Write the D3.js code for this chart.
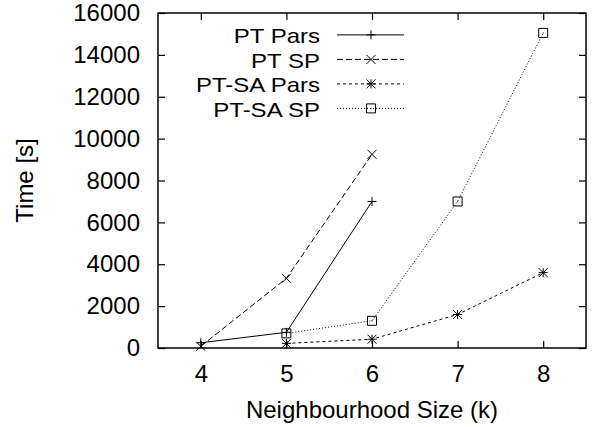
<!DOCTYPE html>
<html><head><meta charset="utf-8">
<script src="https://cdn.jsdelivr.net/npm/d3@7"></script>
<style>body{margin:0;background:#fff;} text{font-family:"Liberation Sans",Arial,sans-serif;}</style>
</head><body>
<svg id="c" width="599" height="427"></svg>
<script>
const xTicks = [4, 5, 6, 7, 8];
const yTicks = [0, 2000, 4000, 6000, 8000, 10000, 12000, 14000, 16000];
const seriesNames = ["PT Pars", "PT SP", "PT-SA Pars", "PT-SA SP"];
const ptParsK = [4, 5, 6];
const ptParsT = [250, 750, 7000];
const ptSpK = [4, 5, 6];
const ptSpT = [80, 3330, 9250];
const ptsaParsK = [5, 6, 7, 8];
const ptsaParsT = [220, 420, 1600, 3600];
const ptsaSpK = [5, 6, 7, 8];
const ptsaSpT = [700, 1300, 7000, 15050];

const svg = d3.select("#c");
const L = 158, R = 586, T = 13, B = 348;
const x = d3.scaleLinear().domain([3.5, 8.5]).range([L, R]);
const y = d3.scaleLinear().domain([0, 16000]).range([B, T]);
const fs = 24;

const series = [
  {name: seriesNames[0], k: ptParsK, t: ptParsT, dash: null, marker: "plus"},
  {name: seriesNames[1], k: ptSpK, t: ptSpT, dash: "6,3", marker: "cross"},
  {name: seriesNames[2], k: ptsaParsK, t: ptsaParsT, dash: "3,3", marker: "star"},
  {name: seriesNames[3], k: ptsaSpK, t: ptsaSpT, dash: "1,2", marker: "box"}
];

function drawMarker(g, type, cx, cy) {
  const s = 4.5;
  const add = (d) => g.append("path").attr("d", d).attr("stroke", "#000").attr("stroke-width", 1).attr("fill", "none");
  if (type === "plus") add(`M${cx-s},${cy}H${cx+s}M${cx},${cy-s}V${cy+s}`);
  if (type === "cross") add(`M${cx-s},${cy-s}L${cx+s},${cy+s}M${cx-s},${cy+s}L${cx+s},${cy-s}`);
  if (type === "star") add(`M${cx-s},${cy}H${cx+s}M${cx},${cy-s}V${cy+s}M${cx-s},${cy-s}L${cx+s},${cy+s}M${cx-s},${cy+s}L${cx+s},${cy-s}`);
  if (type === "box") { add(`M${cx-s},${cy-s}H${cx+s}V${cy+s}H${cx-s}Z`); g.append("rect").attr("x",cx-0.5).attr("y",cy-0.5).attr("width",1).attr("height",1).attr("fill","#000"); }
}

const axL = d3.axisLeft(y).tickValues(yTicks).tickSize(-7).tickPadding(18).tickFormat(d3.format("d"));
const axR = d3.axisRight(y).tickValues(yTicks).tickSize(-7).tickFormat("");
const axB = d3.axisBottom(x).tickValues(xTicks).tickSize(-7).tickPadding(17).tickFormat(d3.format("d"));
const axT = d3.axisTop(x).tickValues(xTicks).tickSize(-7).tickFormat("");
function style(g) {
  g.attr("font-size", fs).attr("font-family", "Liberation Sans, Arial, sans-serif");
  g.select(".domain").remove();
  g.selectAll("line").attr("stroke", "#000").attr("stroke-width", 1.2);
  g.selectAll("text").style("font-size", fs + "px").attr("fill", "#000");
}
svg.append("g").attr("transform", `translate(${L},0)`).call(axL).call(style);
svg.append("g").attr("transform", `translate(${R},0)`).call(axR).call(style);
svg.append("g").attr("transform", `translate(0,${B})`).call(axB).call(style);
svg.append("g").attr("transform", `translate(0,${T})`).call(axT).call(style);

svg.append("rect").attr("x", L).attr("y", T).attr("width", R - L).attr("height", B - T)
  .attr("fill", "none").attr("stroke", "#000").attr("stroke-width", 1.5);

const line = d3.line().x(d => x(d[0])).y(d => y(d[1]));
series.forEach(s => {
  const pts = s.k.map((k, i) => [k, s.t[i]]);
  const p = svg.append("path").attr("d", line(pts)).attr("fill", "none").attr("stroke", "#000").attr("stroke-width", 1);
  if (s.dash) p.attr("stroke-dasharray", s.dash);
  const g = svg.append("g");
  pts.forEach(d => drawMarker(g, s.marker, x(d[0]), y(d[1])));
});

const legX = 320, lineX0 = 337, lineX1 = 404, markX = 371;
series.forEach((s, i) => {
  const base = 43.3 + i * 24.5;
  const t = svg.append("text").attr("x", legX).attr("y", base).attr("text-anchor", "end")
    .style("font-size", fs + "px").text(s.name);
  const w = t.node().getComputedTextLength();
  t.style("font-size", "21px").attr("textLength", w).attr("lengthAdjust", "spacingAndGlyphs");
  const ly = base - 8.4;
  const p = svg.append("line").attr("x1", lineX0).attr("x2", lineX1).attr("y1", ly).attr("y2", ly)
    .attr("stroke", "#000").attr("stroke-width", 1);
  if (s.dash) p.attr("stroke-dasharray", s.dash);
  drawMarker(svg.append("g"), s.marker, markX, ly);
});

svg.append("text").attr("x", (L + R) / 2).attr("y", 418).attr("text-anchor", "middle").style("font-size", fs + "px")
  .text("Neighbourhood Size (k)");
svg.append("text").attr("transform", `translate(33,${(T + B) / 2}) rotate(-90)`).attr("text-anchor", "middle")
  .style("font-size", fs + "px").text("Time [s]");
</script>
</body></html>
